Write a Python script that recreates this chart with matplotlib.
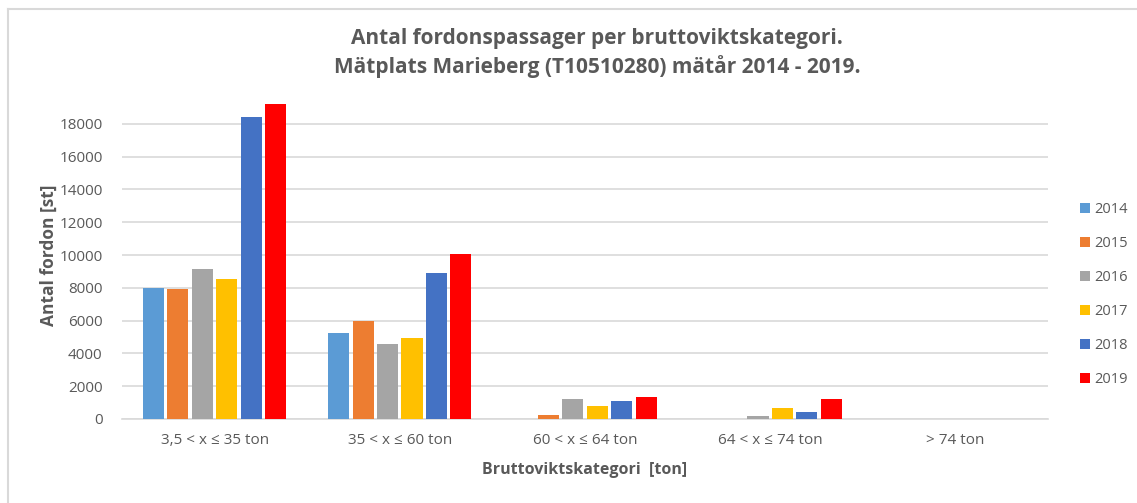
import numpy as np
import matplotlib
matplotlib.use("Agg")
import matplotlib.pyplot as plt
from matplotlib.lines import Line2D

plt.rcParams['font.family'] = ['Open Sans', 'DejaVu Sans']

categories = ["3,5 < x \u2264 35 ton", "35 < x \u2264 60 ton", "60 < x \u2264 64 ton",
              "64 < x \u2264 74 ton", "> 74 ton"]
years = ["2014", "2015", "2016", "2017", "2018", "2019"]
v2014 = [8000, 5240, 0, 0, 0]
v2015 = [7950, 5980, 240, 0, 0]
v2016 = [9150, 4580, 1220, 180, 0]
v2017 = [8550, 4940, 810, 650, 0]
v2018 = [18420, 8900, 1120, 430, 0]
v2019 = [19200, 10060, 1340, 1220, 0]
series = [v2014, v2015, v2016, v2017, v2018, v2019]
colors = ["#5B9BD5", "#ED7D31", "#A5A5A5", "#FFC000", "#4472C4", "#FF0000"]

txt = "#595959"

fig = plt.figure(figsize=(11.37, 5.03), dpi=100)
# chart frame: only top and left edges are visible in the screenshot
bx, by = 7.5 / 1137, 1 - 8.5 / 503
fig.lines.append(Line2D([bx, 1], [by, by], transform=fig.transFigure,
                        color="#D9D9D9", linewidth=1.5))
fig.lines.append(Line2D([bx, bx], [0, by], transform=fig.transFigure,
                        color="#D9D9D9", linewidth=1.5))
ax = fig.add_axes([0.1073, 0.167, 0.8144, 0.652])

x = np.arange(len(categories))
pitch = 0.132
width = 0.114
for i, (yr, vals, c) in enumerate(zip(years, series, colors)):
    ax.bar(x + (i - 2.5) * pitch, vals, width=width, color=c, label=yr, zorder=3)

ax.set_xlim(-0.5, 4.5)
ax.set_ylim(0, 20000)
ax.set_yticks(np.arange(0, 18001, 2000))
ax.grid(axis="y", color="#D9D9D9", linewidth=1.2, zorder=0)
for s in ["top", "right", "left"]:
    ax.spines[s].set_visible(False)
ax.spines["bottom"].set_color("#D9D9D9")
ax.spines["bottom"].set_linewidth(1.2)
ax.tick_params(axis="y", length=0, labelsize=11, colors=txt, pad=14)
ax.tick_params(axis="x", length=0, labelsize=11, colors=txt, pad=10)
ax.set_xticks(x)
ax.set_xticklabels(categories)

ax.set_ylabel("Antal fordon [st]", fontsize=12.5, fontweight="bold", color=txt, labelpad=1)
ax.set_xlabel("Bruttoviktskategori  [ton]", fontsize=11.5, fontweight="bold", color=txt, labelpad=10)

fig.text(0.525, 0.895, "Antal fordonspassager per bruttoviktskategori.\nMätplats Marieberg (T10510280) mätår 2014 - 2019.",
         ha="center", va="center", fontsize=15, fontweight="bold", color=txt, linespacing=1.35)

leg = ax.legend(loc="center left", bbox_to_anchor=(1.028, 0.38), frameon=False,
                fontsize=10.5, labelspacing=1.3, handlelength=0.7, handleheight=0.7,
                handletextpad=0.3, borderaxespad=0)
for t in leg.get_texts():
    t.set_color(txt)

fig.savefig("out.png", dpi=100)
